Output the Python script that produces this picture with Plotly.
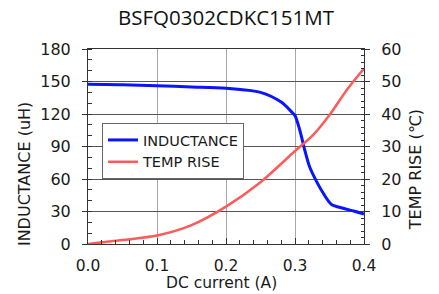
import plotly.graph_objects as go

current_ind = [0.0, 0.05, 0.1, 0.15, 0.2, 0.25, 0.28, 0.295, 0.3, 0.307, 0.314, 0.321, 0.331, 0.341, 0.353, 0.37, 0.385, 0.4]
inductance = [147.4, 147.0, 146.0, 145.0, 143.8, 140.0, 131.0, 122.0, 118.5, 105.0, 87.0, 71.5, 58.0, 46.8, 36.5, 33.0, 30.5, 27.7]

current_temp = [0.0, 0.05, 0.1, 0.15, 0.2, 0.25, 0.3, 0.326, 0.35, 0.375, 0.4]
temp_rise = [0.0, 1.2, 2.6, 5.8, 11.5, 19.0, 28.6, 33.5, 39.7, 47.4, 54.0]

x_ticks = [0.0, 0.1, 0.2, 0.3, 0.4]

FONT = "DejaVu Sans, sans-serif"
TXT = "#1a1a1a"

fig = go.Figure()
fig.add_trace(go.Scatter(x=current_ind, y=inductance, mode="lines", name="INDUCTANCE",
                         legendgroup="a",
                         line=dict(color="#0A14FF", width=3, shape="spline", smoothing=0.8)))
fig.add_trace(go.Scatter(x=current_temp, y=temp_rise, mode="lines", name="TEMP RISE", yaxis="y2",
                         legendgroup="b",
                         line=dict(color="#FF5A5A", width=2.5, shape="spline", smoothing=0.8)))

fig.update_layout(
    width=439, height=294,
    margin=dict(l=88, r=75, t=49, b=50, autoexpand=False),
    paper_bgcolor="white", plot_bgcolor="white",
    font=dict(family=FONT, size=16, color=TXT),
    title=dict(text="BSFQ0302CDKC151MT", x=0.5148, xanchor="center", xref="container",
               y=0.9405, yanchor="middle", yref="container",
               font=dict(family="Open Sans, sans-serif", size=20.5, color="#111")),
    xaxis=dict(range=[0, 0.4], tickvals=x_ticks, tickformat=".1f",
               showline=True, linecolor="#333", linewidth=1, mirror=True,
               ticks="inside", ticklen=6, tickcolor="#333", ticklabelstandoff=7,
               tickfont=dict(size=15.5),
               minor=dict(ticks="inside", dtick=0.02, ticklen=4, tickcolor="#333", showgrid=False),
               showgrid=True, gridcolor="#A8A8A8", gridwidth=1.2,
               zeroline=False, automargin=False),
    yaxis=dict(range=[0, 180], dtick=30,
               showline=True, linecolor="#333", linewidth=1,
               ticks="outside", ticklen=5, tickcolor="#333", ticklabelstandoff=8,
               minor=dict(ticks="inside", dtick=10, ticklen=4, tickcolor="#333", showgrid=False),
               showgrid=True, gridcolor="#555", gridwidth=1,
               zeroline=False, automargin=False),
    yaxis2=dict(range=[0, 60], dtick=10, overlaying="y", side="right",
                showline=True, linecolor="#333", linewidth=1,
                ticks="outside", ticklen=5, tickcolor="#333", ticklabelstandoff=8,
                minor=dict(ticks="inside", dtick=2, ticklen=3, tickcolor="#333", showgrid=False),
                showgrid=False, zeroline=False, automargin=False),
    legend=dict(x=0.0507, y=0.6205, xanchor="left", yanchor="top",
                bgcolor="white", bordercolor="#666", borderwidth=1,
                font=dict(size=14.5, color=TXT), itemwidth=30,
                traceorder="grouped", tracegroupgap=0),
    showlegend=True,
    annotations=[
        dict(text="INDUCTANCE (uH)", xref="paper", yref="paper", x=-0.228, y=0.359,
             textangle=-90, showarrow=False, font=dict(size=16, color=TXT),
             xanchor="center", yanchor="middle"),
        dict(text="TEMP RISE (℃)", xref="paper", yref="paper", x=1.185, y=0.379,
             textangle=-90, showarrow=False, font=dict(size=16, color=TXT),
             xanchor="center", yanchor="middle"),
        dict(text="DC current (A)", xref="paper", yref="paper", x=0.482, y=-0.2,
             showarrow=False, font=dict(size=15.5, color=TXT),
             xanchor="center", yanchor="middle"),
    ],
)

fig.write_html("out.html", config={"displayModeBar": False},
               post_script="document.body.style.margin='0';")
